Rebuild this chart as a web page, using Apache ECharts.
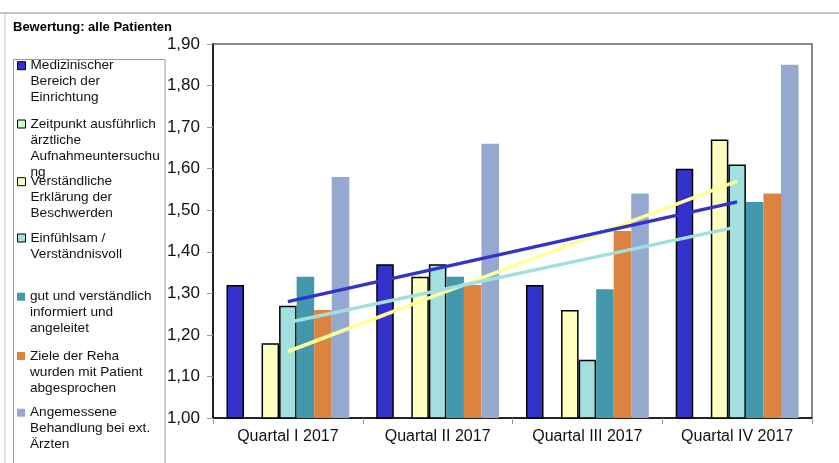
<!DOCTYPE html>
<html>
<head>
<meta charset="utf-8">
<script src="https://cdn.jsdelivr.net/npm/echarts@6/dist/echarts.min.js"></script>
<style>
  html, body { margin: 0; padding: 0; background: #fff; }
  #chart { width: 839px; height: 463px; }
</style>
</head>
<body>
<div id="chart"></div>
<script>
// Quartale
var quarters = ["Quartal I 2017", "Quartal II 2017", "Quartal III 2017", "Quartal IV 2017"];

// Namen der Fragen (Legende)
var names = [
  "Medizinischer Bereich der Einrichtung",
  "Zeitpunkt ausführlich ärztliche Aufnahmeuntersuchung",
  "Verständliche Erklärung der Beschwerden",
  "Einfühlsam / Verständnisvoll",
  "gut und verständlich informiert und angeleitet",
  "Ziele der Reha wurden mit Patient abgesprochen",
  "Angemessene Behandlung bei ext. Ärzten"
];
// so wie die Legende umbricht
var legendLines = [
  ["Medizinischer", "Bereich der", "Einrichtung"],
  ["Zeitpunkt ausführlich", "ärztliche", "Aufnahmeuntersuchu", "ng"],
  ["Verständliche", "Erklärung der", "Beschwerden"],
  ["Einfühlsam /", "Verständnisvoll"],
  ["gut und verständlich", "informiert und", "angeleitet"],
  ["Ziele der Reha", "wurden mit Patient", "abgesprochen"],
  ["Angemessene", "Behandlung bei ext.", "Ärzten"]
];

// Werte je Frage
var medizinisch = [1.32, 1.37, 1.32, 1.60];
var zeitpunkt = [null, null, null, null];
var erklaerung = [1.18, 1.34, 1.26, 1.67];
var einfuehlsam = [1.27, 1.37, 1.14, 1.61];
var informiert = [1.34, 1.34, 1.31, 1.52];
var ziele = [1.26, 1.32, 1.45, 1.54];
var aerzte = [1.58, 1.66, 1.54, 1.85];

// Trendlinien (Anfang und Ende)
var trendMedizinisch = [1.28, null, null, 1.52];
var trendEinfuehlsam = [1.23, null, null, 1.46];
var trendErklaerung = [1.16, null, null, 1.57];

var barData = [medizinisch, zeitpunkt, erklaerung, einfuehlsam, informiert, ziele, aerzte];
var colors = ["#3333cc", "#ccffcc", "#ffffc0", "#a2e0e0", "#4398ae", "#db843f", "#95a9d0"];
var bordered = [true, true, true, true, false, false, false];

var font = "'Liberation Sans', Arial, sans-serif";

var chart = echarts.init(document.getElementById("chart"));

var series = [];
for (var i = 0; i < barData.length; i++) {
  series.push({
    type: "bar",
    name: names[i],
    data: barData[i],
    barGap: "0%",
    barCategoryGap: "18%",
    animation: false,
    itemStyle: {
      color: colors[i],
      borderColor: bordered[i] ? "#000" : colors[i],
      borderWidth: bordered[i] ? 1.5 : 0
    }
  });
}
// Trendlinien (gelb unten, blau oben)
var trends = [
  [trendErklaerung, "#ffff99"],
  [trendEinfuehlsam, "#a2e0e0"],
  [trendMedizinisch, "#3333cc"]
];
for (var t = 0; t < trends.length; t++) {
  series.push({
    type: "line",
    data: trends[t][0],
    connectNulls: true,
    symbol: "none",
    animation: false,
    z: 5,
    lineStyle: { color: trends[t][1], width: 3.5 }
  });
}

// eine Legende pro Eintrag, damit die Abstände stimmen
// leere Zeilen davor, damit das Kästchen bei der ersten Zeile steht
var legendTops = [25.7, 68, 141.7, 214, 256.7, 316, 372.7];
var legends = [];
for (var k = 0; k < names.length; k++) {
  var n = legendLines[k].length;
  var txt = "";
  for (var e = 0; e < n - 1; e++) txt += " \n";
  txt += legendLines[k].join("\n");
  legends.push({
    data: [names[k]],
    left: 17,
    top: legendTops[k],
    padding: 0,
    orient: "vertical",
    itemWidth: 8,
    itemHeight: 8,
    itemGap: 4,
    selectedMode: false,
    icon: "rect",
    itemStyle: { borderWidth: bordered[k] ? 1 : 0, borderColor: "#000" },
    formatter: (function (s) { return function () { return s; }; })(txt),
    textStyle: {
      fontFamily: font,
      fontSize: 13.6,
      lineHeight: 16,
      color: "#111"
    }
  });
}

chart.setOption({
  animation: false,
  title: {
    text: "Bewertung: alle Patienten",
    left: 13,
    top: 21,
    padding: 0,
    textStyle: { fontFamily: font, fontSize: 13, fontWeight: "bold", color: "#000" }
  },
  legend: legends,
  graphic: [
    { type: "line", shape: { x1: 0, y1: 13, x2: 839, y2: 13 }, style: { stroke: "#c4c4c4", lineWidth: 2 } },
    { type: "line", shape: { x1: 5, y1: 13, x2: 5, y2: 463 }, style: { stroke: "#c4c4c4", lineWidth: 1 } },
    { type: "rect", shape: { x: 13.5, y: 59.5, width: 151.5, height: 420 }, style: { fill: "none", stroke: "#999", lineWidth: 1 } }
  ],
  grid: {
    left: 213,
    top: 44,
    right: 27,
    bottom: 45,
    show: true,
    borderColor: "#8a8a8a",
    borderWidth: 2,
    containLabel: false
  },
  xAxis: {
    type: "category",
    data: quarters,
    axisLine: { lineStyle: { color: "#000", width: 1.5 } },
    axisTick: { show: true, length: 6, interval: 0, lineStyle: { color: "#999" } },
    axisLabel: { fontFamily: font, fontSize: 16, color: "#111", margin: 11, interval: 0 }
  },
  yAxis: {
    type: "value",
    min: 1.0,
    max: 1.9,
    interval: 0.1,
    splitLine: { show: false },
    axisLine: { show: true, lineStyle: { color: "#000", width: 1.5 } },
    axisTick: { show: true, length: 6, lineStyle: { color: "#999" } },
    axisLabel: {
      fontFamily: font,
      fontSize: 17,
      color: "#111",
      margin: 13,
      formatter: function (v) { return v.toFixed(2).replace(".", ","); }
    }
  },
  series: series
});
</script>
</body>
</html>
